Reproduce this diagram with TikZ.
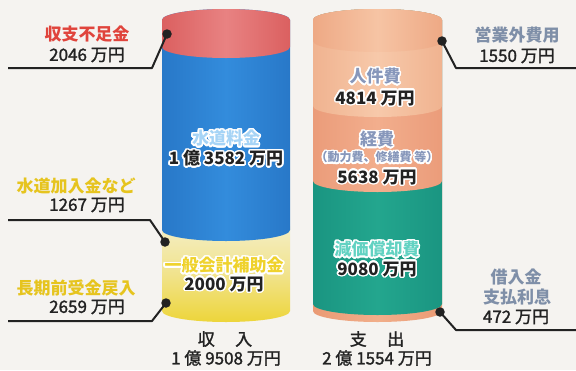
\documentclass[tikz,border=0pt]{standalone}
\usepackage{fontspec}
\newfontfamily\jp{Noto Sans CJK JP}
\newfontfamily\jpnum{Noto Sans CJK JP}[FakeBold=1.5]
\usepackage{contour}
\contourlength{1.5pt}
\contournumber{24}
\definecolor{bgc}{HTML}{F5F3F0}
\definecolor{redA}{HTML}{DB6060}
\definecolor{redB}{HTML}{E88282}
\definecolor{bluA}{HTML}{2878C8}
\definecolor{bluB}{HTML}{338CDC}
\definecolor{yelT}{HTML}{F4EEC4}
\definecolor{yelM}{HTML}{F1E38C}
\definecolor{yelB}{HTML}{EDD53A}
\definecolor{grnA}{HTML}{1A9581}
\definecolor{grnB}{HTML}{23A68E}
\definecolor{pchA}{HTML}{EEA985}
\definecolor{pchB}{HTML}{F6C4A4}
\definecolor{pjnA}{HTML}{F0B390}
\definecolor{pjnB}{HTML}{F7C9AA}
\definecolor{pkeA}{HTML}{EB9C7A}
\definecolor{pkeB}{HTML}{F2AE8D}
\definecolor{pbtA}{HTML}{EA9A74}
\definecolor{pbtB}{HTML}{F1AE8A}
\definecolor{txtred}{HTML}{E0443C}
\definecolor{txtyel}{HTML}{E6C41E}
\definecolor{txtgray}{HTML}{7F8FA8}
\definecolor{inblue}{HTML}{A6D4F6}
\definecolor{inlav}{HTML}{8797BB}
\definecolor{inteal}{HTML}{62D2C2}
\definecolor{inyel}{HTML}{EFD22C}
\definecolor{ink}{HTML}{222222}
% full cylinder part: cx, rx, ytop, ybot, ry, options
\newcommand\mycyl[6]{%
\path[#6] (#1-#2,#3) .. controls (#1-#2,#3-0.5523*#5) and (#1-0.5523*#2,#3-#5) .. (#1,#3-#5)
 .. controls (#1+0.5523*#2,#3-#5) and (#1+#2,#3-0.5523*#5) .. (#1+#2,#3) -- (#1+#2,#4)
 .. controls (#1+#2,#4+0.5523*#5) and (#1+0.5523*#2,#4+#5) .. (#1,#4+#5)
 .. controls (#1-0.5523*#2,#4+#5) and (#1-#2,#4+0.5523*#5) .. (#1-#2,#4) -- cycle;}
% band between two lower arcs
\newcommand\myband[6]{%
\path[#6] (#1-#2,#3) .. controls (#1-#2,#3+0.5523*#5) and (#1-0.5523*#2,#3+#5) .. (#1,#3+#5)
 .. controls (#1+0.5523*#2,#3+#5) and (#1+#2,#3+0.5523*#5) .. (#1+#2,#3) -- (#1+#2,#4)
 .. controls (#1+#2,#4+0.5523*#5) and (#1+0.5523*#2,#4+#5) .. (#1,#4+#5)
 .. controls (#1-0.5523*#2,#4+#5) and (#1-#2,#4+0.5523*#5) .. (#1-#2,#4) -- cycle;}
\begin{document}
\begin{tikzpicture}[x=1pt,y=-1pt,
  lbl/.style={font=\jp\bfseries\fontsize{17}{19}\selectfont,inner sep=0pt},
  num/.style={font=\jpnum\fontsize{17}{19}\selectfont,inner sep=0pt,text=ink},
  inlbl/.style={font=\jp\bfseries\fontsize{17}{19}\selectfont,inner sep=0pt},
  innum/.style={font=\jp\bfseries\fontsize{17}{19}\selectfont,inner sep=0pt,text=ink},
  insmall/.style={font=\jp\bfseries\fontsize{12}{14}\selectfont,inner sep=0pt,text=inlav},
  dot/.style={circle,fill=ink,inner sep=0pt,minimum size=9.5pt},
  leader/.style={draw=ink,line width=2pt,line join=round}]
\useasboundingbox (0,0) rectangle (576,370);
\fill[bgc] (0,0) rectangle (576,370);
% ---- left cylinder (revenue)
\myband{226}{64}{226}{311}{11}{top color=yelT,bottom color=yelB,middle color=yelM}
\mycyl{226}{64}{20}{230}{11}{left color=bluA,right color=bluA,middle color=bluB}
\mycyl{226}{64}{20}{47}{11}{left color=redA,right color=redA,middle color=redB}
% ---- right cylinder (expenditure)
\mycyl{377.5}{64.5}{20}{311}{11}{left color=pbtA,right color=pbtA,middle color=pbtB}
\mycyl{377.5}{64.5}{20}{304}{11}{left color=grnA,right color=grnA,middle color=grnB}
\mycyl{377.5}{64.5}{20}{181}{11}{left color=pkeA,right color=pkeA,middle color=pkeB}
\mycyl{377.5}{64.5}{20}{106}{11}{left color=pjnA,right color=pjnA,middle color=pjnB}
\mycyl{377.5}{64.5}{20}{41}{11}{left color=pchA,right color=pchA,middle color=pchB}
% ---- inside labels with white halo
\node[inlbl,text=inblue] (suido) at (226,139) {\contour{white}{水道料金}};
\node[innum] (suidov) at (226,159) {\contour{white}{1 億 3582 万円}};
\node[inlbl,text=inyel] (ippan) at (224,266) {\contour{white}{一般会計補助金}};
\node[innum] (ippanv) at (224,285) {\contour{white}{2000 万円}};
\node[inlbl,text=inlav] (jinken) at (375,77) {\contour{white}{人件費}};
\node[innum] (jinkenv) at (375,99) {\contour{white}{4814 万円}};
\node[inlbl,text=inlav] (keihi) at (377,140) {\contour{white}{経費}};
\node[insmall] (keihis) at (377,158) {\contour{white}{（動力費、修繕費 等）}};
\node[innum] (keihiv) at (377,178) {\contour{white}{5638 万円}};
\node[inlbl,text=inteal] (genka) at (377,250) {\contour{white}{減価償却費}};
\node[innum] (genkav) at (377,270) {\contour{white}{9080 万円}};
% ---- outside labels, left
\node[lbl,text=txtred] (fusoku) at (87,34) {収支不足金};
\node[num] (fusokuv) at (87,55) {2046 万円};
\node[lbl,text=txtyel] (kanyu) at (76,186) {水道加入金など};
\node[num] (kanyuv) at (87,205) {1267 万円};
\node[lbl,text=txtyel] (choki) at (76,288) {長期前受金戻入};
\node[num] (chokiv) at (87,307) {2659 万円};
% ---- outside labels, right
\node[lbl,text=txtgray] (eigyo) at (517,35) {営業外費用};
\node[num] (eigyov) at (517,56) {1550 万円};
\node[lbl,text=txtgray] (kari1) at (516,277) {借入金};
\node[lbl,text=txtgray] (kari2) at (517,297) {支払利息};
\node[num] (kariv) at (516,317) {472 万円};
% ---- totals
\node[num] (shunyu) at (225,339) {収\hspace{1.2em}入};
\node[num] (shunyuv) at (226,358) {1 億 9508 万円};
\node[num] (shishutsu) at (377,339) {支\hspace{1.2em}出};
\node[num] (shishutsuv) at (377,358) {2 億 1554 万円};
% ---- leaders
\node[dot] (d1) at (167,34) {};
\coordinate (k1) at (152,68); \coordinate (e1) at (8,68);
\draw[leader] (d1.center) -- (k1) -- (e1);
\node[dot] (d2) at (165,242) {};
\coordinate (k2) at (150,220); \coordinate (e2) at (8,220);
\draw[leader] (d2.center) -- (k2) -- (e2);
\node[dot] (d3) at (166,303) {};
\coordinate (k3) at (152,321); \coordinate (e3) at (8,321);
\draw[leader] (d3.center) -- (k3) -- (e3);
\node[dot] (d4) at (442,41) {};
\coordinate (k4) at (456,68); \coordinate (e4) at (576,68);
\draw[leader] (d4.center) -- (k4) -- (e4);
\node[dot] (d5) at (440,312) {};
\coordinate (k5) at (456,330); \coordinate (e5) at (576,330);
\draw[leader] (d5.center) -- (k5) -- (e5);
\end{tikzpicture}
\end{document}
